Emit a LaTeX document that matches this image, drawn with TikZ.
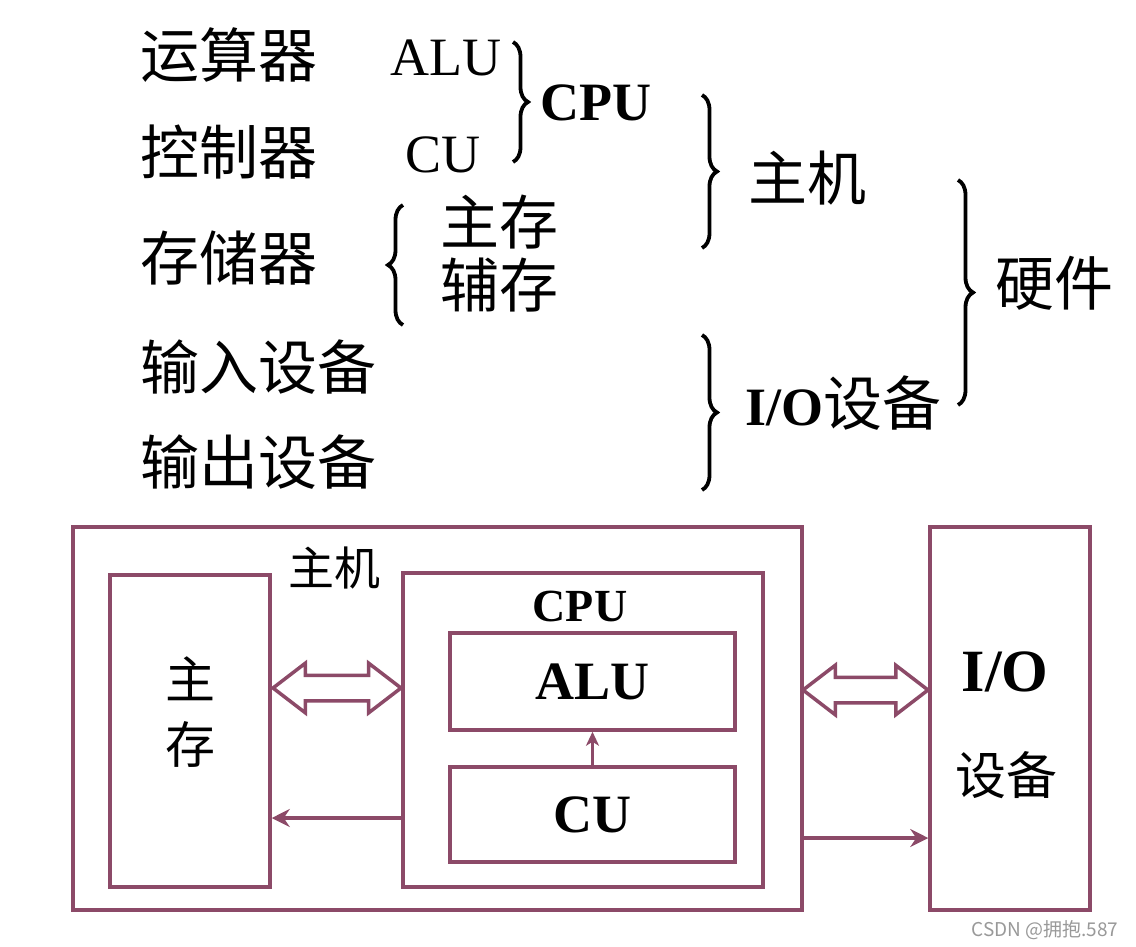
\documentclass[tikz,border=0pt]{standalone}
\usepackage{fontspec}
\setmainfont{Liberation Serif}
\newfontfamily\cjk{Noto Sans CJK SC}
\usetikzlibrary{decorations.pathreplacing,shapes.arrows,arrows.meta}
\definecolor{mauve}{RGB}{140,74,104}

\begin{document}
\begin{tikzpicture}[x=1pt,y=-1pt,
    zh/.style={font=\cjk\fontsize{59}{62}\selectfont, inner sep=0pt},
    en/.style={font=\fontsize{54}{60}\selectfont, inner sep=0pt},
    bf/.style={font=\bfseries\fontsize{54}{60}\selectfont, inner sep=0pt},
    brc/.style={decorate, decoration={brace, amplitude=15pt}, line width=3.8pt},
    box/.style={draw=mauve, line width=3.5pt, inner sep=0pt},
    dbl/.style={double arrow, draw=mauve, line width=3.5pt, inner xsep=0pt, inner ysep=11pt,
        double arrow head extend=12pt, double arrow tip angle=75},
    link/.style={draw=mauve, line width=3.5pt, -{Stealth[length=18pt,width=18pt,inset=6pt]}}]
    \useasboundingbox[fill=white](0,0)rectangle(1136,946);

    \node[zh, anchor=west](yunsuan)at(140,55){运算器};
    \node[zh, anchor=west](kongzhi)at(140,152){控制器};
    \node[zh, anchor=west](cunchu)at(140,258){存储器};
    \node[zh, anchor=west](shuru)at(140,367){输入设备};
    \node[zh, anchor=west](shuchu)at(140,462){输出设备};
    \node[en, anchor=west](alut)at(390,58){ALU};
    \node[en, anchor=west](cut)at(405,155){CU};
    \node[bf, anchor=west](cput)at(540,103){CPU};
    \node[zh, anchor=west](zhuji)at(748,178){主机};
    \node[zh, anchor=west](zhucun)at(440,222){主存};
    \node[zh, anchor=west](fucun)at(440,285){辅存};
    \node[zh, anchor=west](yingjian)at(995,283){硬件};
    \node[zh, anchor=west](iot)at(745,403){{\rmfamily\bfseries\fontsize{54}{60}\selectfont I/O}设备};

    \coordinate(b1s)at(513,42);  \coordinate(b1e)at(513,162);
    \coordinate(b2s)at(702,95);  \coordinate(b2e)at(702,248);
    \coordinate(b3s)at(403,325); \coordinate(b3e)at(403,205);
    \coordinate(b4s)at(958,180); \coordinate(b4e)at(958,405);
    \coordinate(b5s)at(702,335); \coordinate(b5e)at(702,490);
    \draw[brc](b1s)--(b1e);
    \draw[brc](b2s)--(b2e);
    \draw[brc](b3s)--(b3e);
    \draw[brc](b4s)--(b4e);
    \draw[brc](b5s)--(b5e);

    \node[box, minimum width=729pt, minimum height=383pt](host)at(437.5,718.5){};
    \node[box, minimum width=160pt, minimum height=312pt](mem)at(190,731){};
    \node[box, minimum width=360pt, minimum height=314pt](cpu)at(583,730){};
    \node[box, bf, minimum width=285pt, minimum height=97pt](alu)at(592.5,681.5){ALU};
    \node[box, bf, minimum width=285pt, minimum height=95pt](cu)at(592.5,814.5){CU};
    \node[box, minimum width=160pt, minimum height=383pt](io)at(1010,718.5){};

    \node[zh, font=\cjk\fontsize{46}{50}\selectfont](hostt)at(334,568){主机};
    \node[bf, font=\bfseries\fontsize{46}{50}\selectfont](cpul)at(580,606){CPU};
    \node[zh, font=\cjk\fontsize{50}{65}\selectfont, align=center](memt)at(190,712){主\\存};
    \node[bf, font=\bfseries\fontsize{60}{60}\selectfont](iol)at(1005,672){I/O};
    \node[zh, font=\cjk\fontsize{51}{55}\selectfont](iosb)at(1006,775){设备};

    \node[dbl, minimum height=128pt](mc)at(337,688){};
    \node[dbl, minimum height=125pt](hi)at(865.5,690){};

    \coordinate(y1)at(0,818);
    \coordinate(y2)at(0,838);
    \draw[link, line width=3pt, -{Stealth[length=14pt,width=13pt,inset=4pt]}](cu.north)--(alu.south);
    \draw[link](cpu.west|-y1)--(mem.east|-y1);
    \draw[link](host.east|-y2)--(io.west|-y2);

    \node[font=\cjk\fontsize{19}{20}\selectfont, text=gray!80, anchor=east](mark)at(1122,930){CSDN @拥抱.587};
\end{tikzpicture}
\end{document}
